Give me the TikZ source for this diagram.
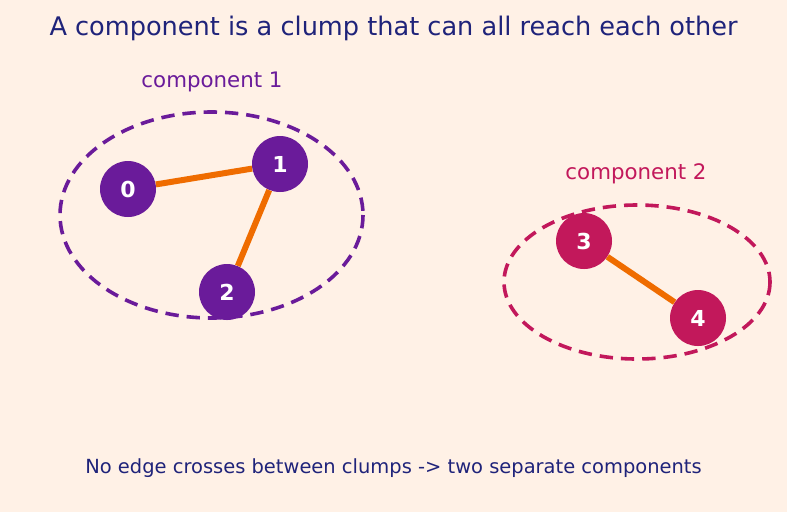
\documentclass[tikz,border=0pt]{standalone}
\usepackage{fontspec}
\setmainfont{DejaVu Sans}
\begin{document}
\begin{tikzpicture}[x=0.75pt,y=-0.75pt,
  vert/.style={circle,minimum size=56*0.75pt,inner sep=0pt,text=white,font=\fontsize{16.5}{19}\selectfont\bfseries},
  pv/.style={vert,fill=purp},
  cv/.style={vert,fill=crim},
  edge/.style={draw=edgeor,line width=4.5pt},
  clump/.style={dash pattern=on 10pt off 6pt,line width=2.7pt}]
\definecolor{bg}{HTML}{FFF1E6}
\definecolor{navy}{HTML}{1F237A}
\definecolor{purp}{HTML}{6A1B9A}
\definecolor{crim}{HTML}{C2185B}
\definecolor{edgeor}{HTML}{EF6C00}
\fill[bg] (0,0) rectangle (787,512);
\useasboundingbox (0,0) rectangle (787,512);
\node[text=navy,font=\fontsize{19.2}{23}\selectfont] (title) at (393.5,28) {A component is a clump that can all reach each other};
\node[text=purp,font=\fontsize{16}{19}\selectfont] (lab1) at (212,82) {component 1};
\node[text=crim,font=\fontsize{16}{19}\selectfont] (lab2) at (636,174) {component 2};
\draw[purp,clump] (211.5,215) ellipse [x radius=151.5,y radius=103];
\draw[crim,clump] (637,282) ellipse [x radius=133,y radius=77];
\node[pv] (n0) at (128,189) {0};
\node[pv] (n1) at (280,164) {1};
\node[pv] (n2) at (227,292) {2};
\node[cv] (n3) at (584,241) {3};
\node[cv] (n4) at (698,318) {4};
\draw[edge] (n0) -- (n1);
\draw[edge] (n1) -- (n2);
\draw[edge] (n3) -- (n4);
\node[text=navy,font=\fontsize{14.6}{17}\selectfont] (foot) at (393.5,468) {No edge crosses between clumps -> two separate components};
\end{tikzpicture}
\end{document}
